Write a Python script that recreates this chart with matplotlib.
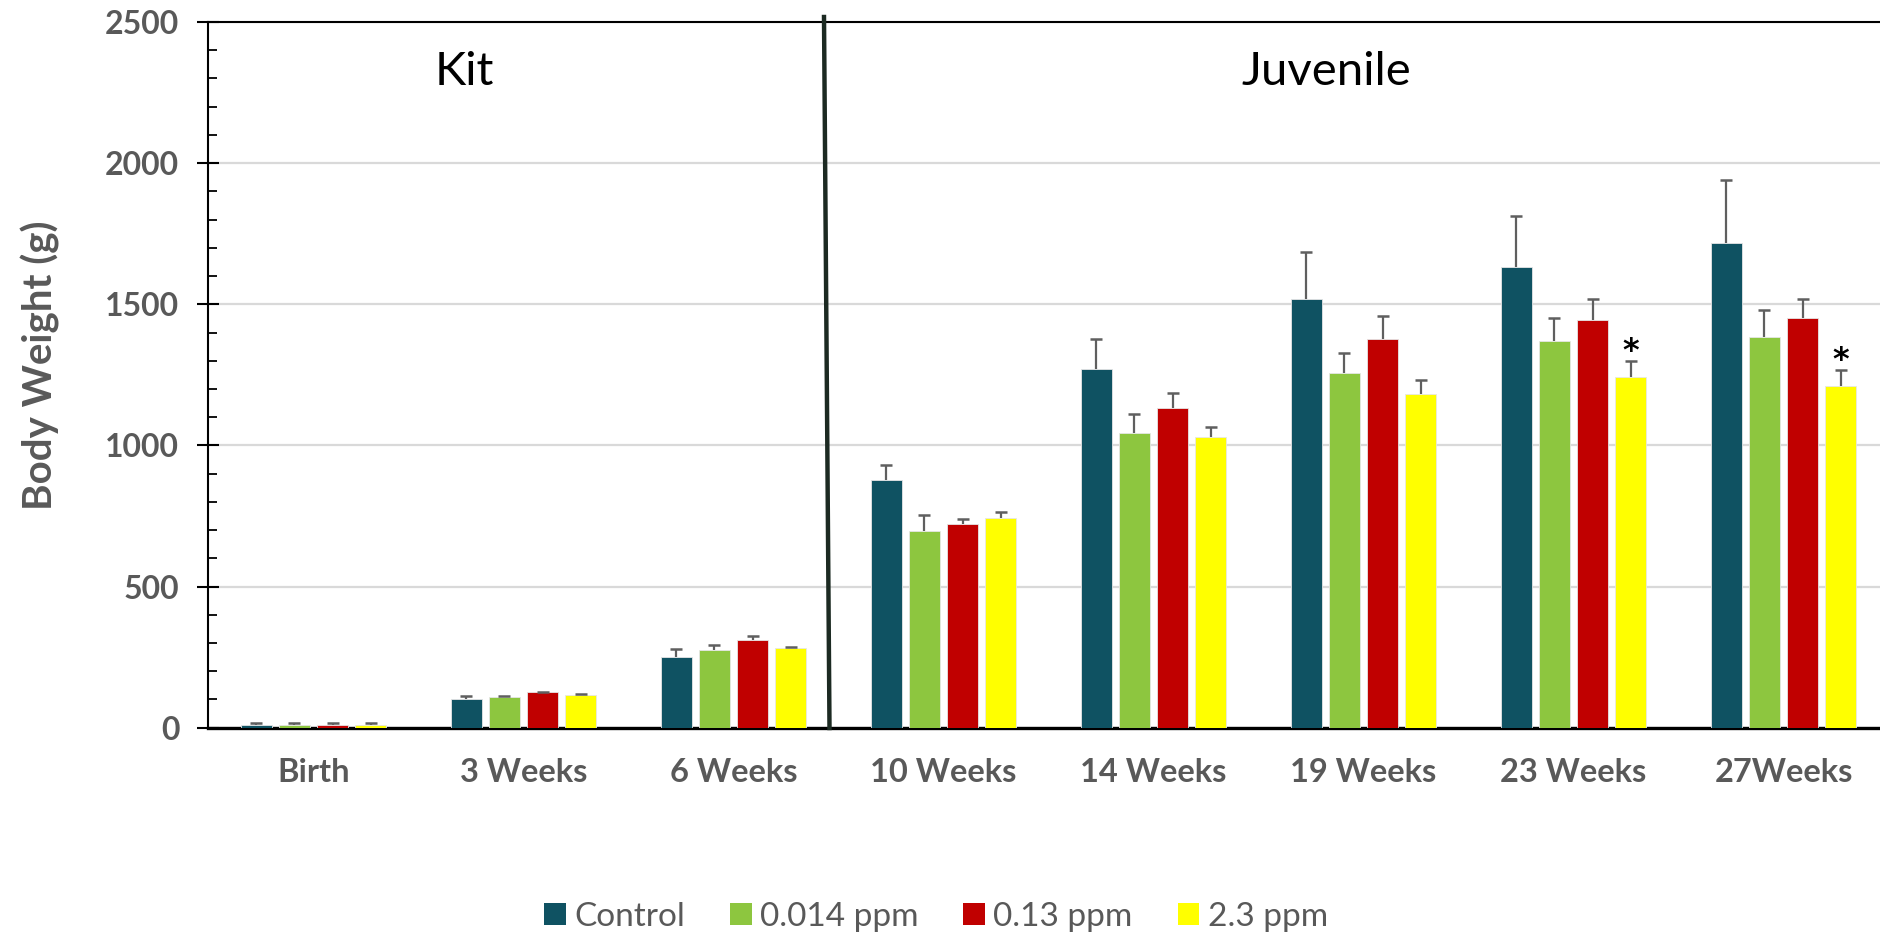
import numpy as np
import matplotlib
matplotlib.use("Agg")
import matplotlib.pyplot as plt
from matplotlib.patches import Patch
from matplotlib.lines import Line2D
from matplotlib.ticker import MultipleLocator

plt.rcParams['font.family'] = ['Lato', 'DejaVu Sans']

categories = ["Birth", "3 Weeks", "6 Weeks", "10 Weeks", "14 Weeks",
              "19 Weeks", "23 Weeks", "27Weeks"]
series_names = ["Control", "0.014 ppm", "0.13 ppm", "2.3 ppm"]
colors = ["#0F5262", "#8DC63F", "#C00000", "#FFFF00"]

control = [10, 102, 251, 879, 1271, 1520, 1633, 1717]
ppm_0014 = [9, 109, 274, 698, 1043, 1256, 1370, 1384]
ppm_013 = [10, 125, 311, 721, 1134, 1377, 1446, 1453]
ppm_23 = [10, 116, 281, 743, 1030, 1181, 1241, 1209]

control_err = [6, 12, 29, 51, 105, 164, 179, 225]
ppm_0014_err = [6, 5, 20, 57, 68, 72, 81, 96]
ppm_013_err = [7, 3, 13, 18, 52, 81, 72, 65]
ppm_23_err = [7, 5, 6, 20, 36, 49, 58, 58]

# significant differences flagged on the 2.3 ppm series
significant_23 = [False, False, False, False, False, False, True, True]

values = [control, ppm_0014, ppm_013, ppm_23]
errors = [control_err, ppm_0014_err, ppm_013_err, ppm_23_err]

fig = plt.figure(figsize=(18.81, 9.36), dpi=100)
ax = fig.add_axes([208.5 / 1881, 208.3 / 936, 1680 / 1881, 705.7 / 936])

x = np.arange(len(categories))
pitch = 0.181
width = 0.146
offsets = (np.arange(4) - 1.5) * pitch

for i in range(4):
    xs = x + offsets[i]
    ax.bar(xs, values[i], width=width, color=colors[i],
           edgecolor="#E6E6E6", linewidth=0.6, zorder=3)
    _, caps, _ = ax.errorbar(xs, values[i], yerr=[np.zeros(len(x)), errors[i]],
                             fmt="none", ecolor="#5F5F5F", elinewidth=1.6,
                             capsize=4, capthick=1.8, zorder=4)
    # upper bars only: hide the cap sitting on the bar top
    for cap in caps:
        if np.allclose(cap.get_ydata(), values[i]):
            cap.set_visible(False)

for j, flag in enumerate(significant_23):
    if flag:
        ax.annotate("*", (x[j] + offsets[3], ppm_23[j] + ppm_23_err[j]),
                    xytext=(0, 1), textcoords="offset points",
                    ha="center", va="baseline", fontsize=23,
                    fontweight="bold", color="black", zorder=5,
                    family="DejaVu Sans")

ax.set_xlim(-0.5, len(categories) - 0.5)
ax.set_ylim(0, 2500)
ax.yaxis.set_major_locator(MultipleLocator(500))
ax.yaxis.set_minor_locator(MultipleLocator(100))
ax.grid(axis="y", which="major", color="#D9D9D9", linewidth=1.6, zorder=0)
ax.set_axisbelow(True)

ax.set_xticks(x)
ax.set_xticklabels(categories, fontsize=23.5, fontweight="bold", color="#595959")
ax.tick_params(axis="x", length=0, pad=22)
ax.tick_params(axis="y", which="major", direction="inout", length=16,
               width=1.5, labelsize=23, labelcolor="#595959", pad=13)
ax.tick_params(axis="y", which="minor", direction="in", length=6.5, width=1.3)
for lab in ax.get_yticklabels():
    lab.set_fontweight("bold")

for side in ["left", "top"]:
    ax.spines[side].set_linewidth(1.5)
    ax.spines[side].set_color("black")
ax.spines["bottom"].set_linewidth(2.4)
ax.spines["bottom"].set_color("black")
ax.spines["right"].set_visible(False)

fig.text(40 / 1881, 1 - 365 / 936, "Body Weight (g)", rotation=90,
         ha="center", va="center", fontsize=29, fontweight="bold",
         color="#595959")

fig.text(464 / 1881, 1 - 72 / 936, "Kit", ha="center", va="center",
         fontsize=34, color="black")
fig.text(1326 / 1881, 1 - 72 / 936, "Juvenile", ha="center", va="center",
         fontsize=34, color="black")

# divider between the kit and juvenile stages
fig.add_artist(Line2D([824 / 1881, 829.5 / 1881], [1 - 17 / 936, 1 - 728 / 936],
                      transform=fig.transFigure, color="#1C2A22", linewidth=3.2))

handles = [Patch(facecolor=c, edgecolor="none") for c in colors]
fig.legend(handles, series_names, loc="center", bbox_to_anchor=(936 / 1881, 19 / 936),
           ncol=4, frameon=False, fontsize=24, labelcolor="#595959",
           handlelength=0.65, handleheight=0.65, handletextpad=0.25,
           columnspacing=1.35)

fig.savefig("out.png", dpi=100)
